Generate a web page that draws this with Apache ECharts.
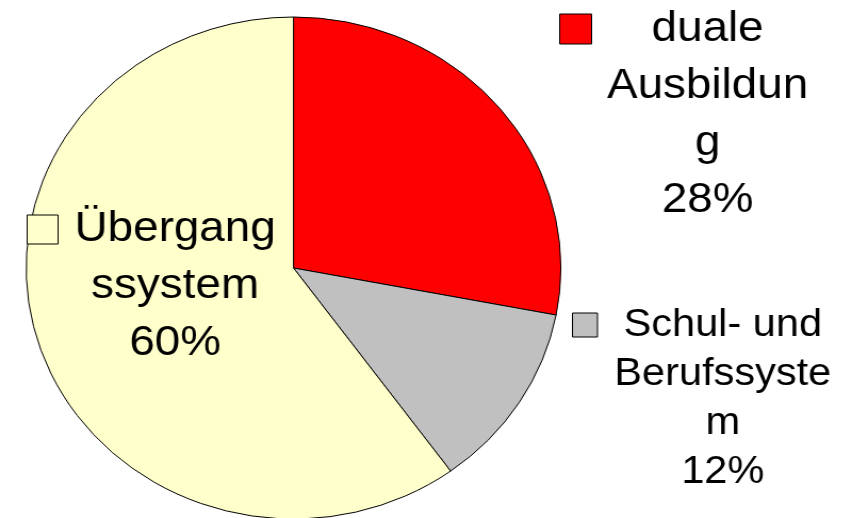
<!DOCTYPE html>
<html>
<head>
<meta charset="utf-8">
<script src="https://cdn.jsdelivr.net/npm/echarts@6/dist/echarts.min.js"></script>
<style>
  html, body { margin: 0; padding: 0; background: #ffffff; overflow: hidden; }
  #wrap { width: 852px; height: 518px; overflow: hidden; position: relative; }
  #c { width: 800px; height: 518px; transform: scaleX(1.065); transform-origin: 0 0; }
</style>
</head>
<body>
<div id="wrap"><div id="c"></div></div>
<script>
// ---- data ----
const categories = ['duale Ausbildung', 'Schul- und Berufssystem', 'Übergangssystem'];
const values = [28, 12, 60];
const colors = ['#FF0000', '#C0C0C0', '#FFFFCC'];
// legend text as wrapped in the original chart
const legendLines = [
  ['duale', 'Ausbildun', 'g'],
  ['Schul- und', 'Berufssyste', 'm'],
  ['Übergang', 'ssystem']
];

const total = values.reduce((a, b) => a + b, 0);
const FONT = '"Liberation Sans", Arial, sans-serif';

function legendText(name) {
  const i = categories.indexOf(name);
  const lines = legendLines[i].concat([Math.round(values[i] / total * 100) + '%']);
  return lines.map(l => '{c|' + l + '}').join('\n');
}

function makeLegend(name, opts) {
  const n = legendLines[categories.indexOf(name)].length + 1;
  return {
    data: [name],
    left: opts.left,
    top: opts.top,
    padding: 0,
    icon: 'rect',
    itemWidth: opts.iw,
    itemHeight: opts.ih,
    selectedMode: false,
    itemStyle: { borderColor: '#000000', borderWidth: 1 },
    formatter: legendText,
    textStyle: {
      color: '#000000',
      fontFamily: FONT,
      fontSize: opts.fs,
      lineHeight: opts.lh,
      padding: [(n - 1) * opts.lh, 0, 0, opts.padL],
      rich: {
        c: { align: 'center', fontFamily: FONT, fontSize: opts.fs, lineHeight: opts.lh, color: '#000000' }
      }
    }
  };
}

const chart = echarts.init(document.getElementById('c'), null, { renderer: 'canvas' });
chart.setOption({
  animation: false,
  backgroundColor: '#ffffff',
  legend: [
    makeLegend(categories[0], { left: 525, top: 29 - 3.5 * 57, iw: 30, ih: 30, fs: 43, lh: 57, padL: 9.5 }),
    makeLegend(categories[1], { left: 537, top: 325 - 3.5 * 49, iw: 23.5, ih: 24, fs: 39, lh: 49, padL: 10.8 }),
    makeLegend(categories[2], { left: 25, top: 229.5 - 2.5 * 57, iw: 29, ih: 29, fs: 43, lh: 57, padL: 10.5 })
  ],
  series: [{
    type: 'pie',
    center: [275.6, 268],
    radius: [0, 251],
    startAngle: 90,
    clockwise: true,
    silent: true,
    label: { show: false },
    labelLine: { show: false },
    itemStyle: { borderColor: '#000000', borderWidth: 1 },
    data: categories.map((c, i) => ({ name: c, value: values[i], itemStyle: { color: colors[i] } }))
  }]
});
</script>
</body>
</html>
